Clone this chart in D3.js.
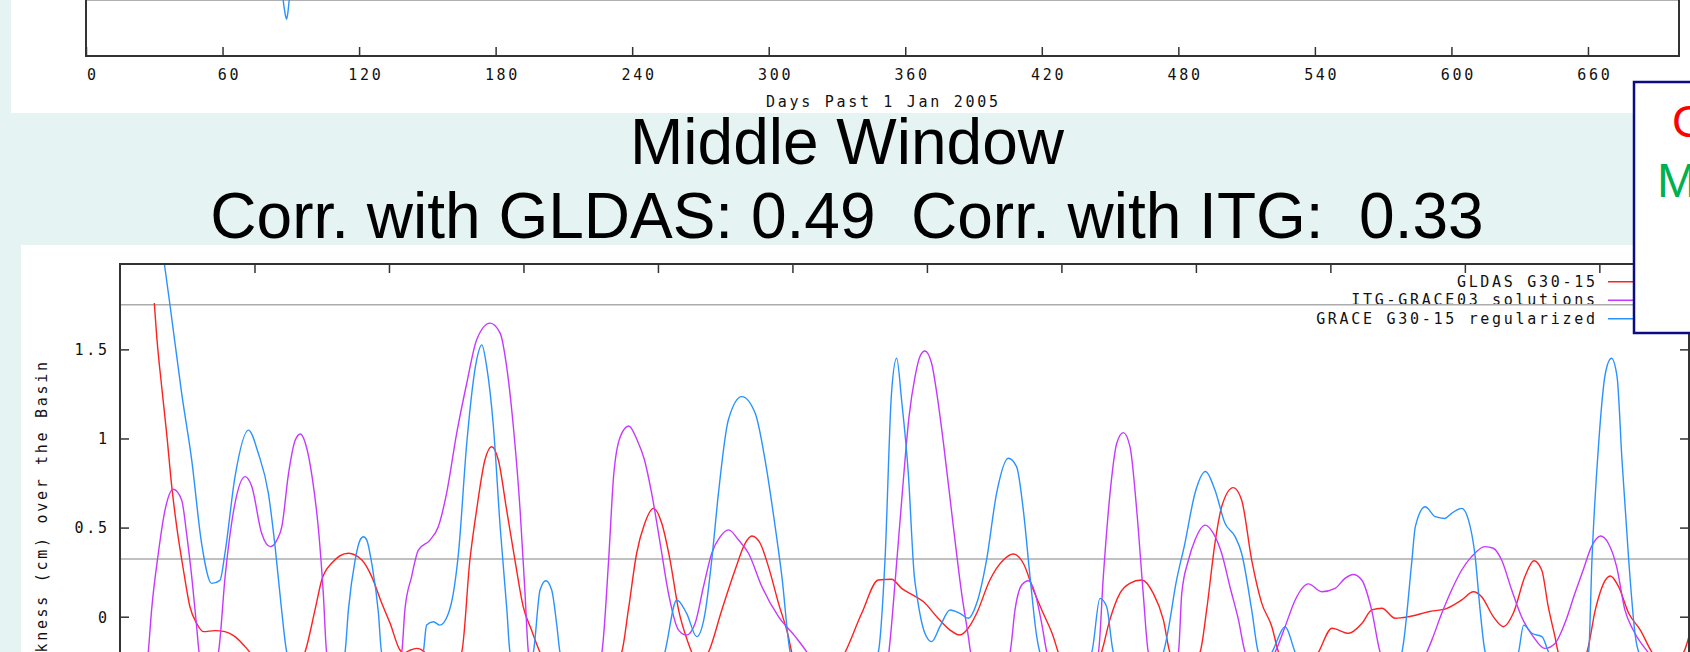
<!DOCTYPE html>
<html>
<head>
<meta charset="utf-8">
<script src="https://cdn.jsdelivr.net/npm/d3@7"></script>
<style>
  html, body { margin: 0; padding: 0; background: #e6f3f3; overflow: hidden; }
  svg { display: block; }
  .mono { font-family: "DejaVu Sans Mono", monospace; font-size: 15px; letter-spacing: 2.7px; fill: #111; }
  .title { font-family: "Liberation Sans", Arial, sans-serif; font-size: 64px; fill: #000; white-space: pre; }
</style>
</head>
<body>
<svg id="chart" width="1690" height="652"></svg>
<script>
// ---- data -------------------------------------------------------------
const dayTicks = [0, 60, 120, 180, 240, 300, 360, 420, 480, 540, 600, 660];
const levelTicks = [-0.5, 0, 0.5, 1, 1.5];
const refLevels = [1.75, 0.324];          // grey reference lines, lower panel
const upperRefLevel = -0.4;               // grey reference line, upper panel

const seriesNames = ["GLDAS G30-15", "ITG-GRACE03 solutions", "GRACE G30-15 regularized"];
const seriesColors = ["#ff2020", "#c638ff", "#2a92ff"];

// [day, cm]
const gldas = [
  [15.3,1.76],[16.4,1.57],[18.6,1.29],[20.8,1.03],[23.1,0.73],[25.3,0.505],[28.3,0.262],[31.2,0.056],
  [34.2,-0.037],[37.2,-0.084],[42.4,-0.078],[46.8,-0.084],[51.3,-0.112],[55.8,-0.168],[58,-0.2],[64,-0.3],
  [72,-0.33],[78,-0.29],[82.5,-0.2],[87,0.038],[90,0.206],[94.4,0.30],[101.9,0.356],[107.9,0.318],
  [112.3,0.225],[116.8,0.075],[120.5,-0.037],[124.9,-0.187],[126.5,-0.205],[129,-0.19],[132.4,-0.178],
  [136,-0.2],[140,-0.28],[146,-0.3],[152.4,-0.2],[156.1,0.318],[159.1,0.599],[162.8,0.879],[165.8,0.954],
  [168.8,0.879],[172.5,0.599],[176.2,0.318],[179.9,0.056],[183.6,-0.075],[187.4,-0.2],[195,-0.35],
  [205,-0.4],[215,-0.35],[223.8,-0.2],[226.8,0.038],[230.5,0.356],[234,0.52],[238,0.608],[241.7,0.524],
  [245.4,0.318],[249.2,0.038],[253.6,-0.15],[255.1,-0.2],[259,-0.26],[262.5,-0.2],[268.5,0.038],
  [274.4,0.262],[278.9,0.412],[281.9,0.453],[285.6,0.412],[289.3,0.281],[293.8,0.075],[298.2,-0.112],
  [299.7,-0.2],[306,-0.35],[315,-0.38],[323.5,-0.2],[330.9,0.019],[338.3,0.206],[344.2,0.21],
  [348.7,0.159],[354,0.12],[358.5,0.084],[364.4,0.0],[370.3,-0.075],[374.7,-0.103],[378.4,-0.065],
  [382.2,0.019],[388.1,0.206],[394.1,0.318],[398.5,0.352],[403,0.30],[407.5,0.15],[411.9,0.019],
  [416.4,-0.112],[418.6,-0.2],[425,-0.33],[432,-0.32],[437.9,-0.2],[441.6,-0.018],[446.1,0.131],
  [450.5,0.187],[455.8,0.206],[461,0.131],[465.5,-0.018],[468.4,-0.2],[474,-0.3],[481.8,-0.2],
  [484.8,0.038],[488.5,0.412],[491.5,0.617],[496.7,0.724],[500.4,0.655],[504.9,0.318],[509.4,0.075],
  [513.9,-0.056],[516.9,-0.2],[524,-0.32],[530,-0.3],[534.7,-0.2],[540.7,-0.065],[548.1,-0.093],
  [554.1,-0.037],[558.5,0.038],[563,0.047],[568.9,-0.009],[574.9,0.0],[583.8,0.028],[592,0.047],
  [598.6,0.094],[603.8,0.14],[607.5,0.112],[612.7,0.0],[617.2,-0.056],[621.6,0.019],[626.8,0.225],
  [630.8,0.314],[634.3,0.262],[637.2,0.056],[640.2,-0.112],[641.7,-0.2],[648,-0.3],[654.4,-0.2],
  [658.2,0.038],[661.9,0.187],[664.9,0.228],[668.6,0.168],[673.1,0.019],[678.3,-0.075],[683.5,-0.2],
  [690,-0.28],[697.6,-0.2],[700,-0.11]
];

const itg = [
  [8,-0.5],[12.6,-0.2],[14.1,0.038],[17.1,0.356],[20.1,0.599],[23.8,0.715],[27.5,0.655],[29.7,0.468],
  [32,0.225],[34.2,-0.056],[35.3,-0.2],[39,-0.35],[43.9,-0.2],[46.9,0.225],[51.3,0.636],[55.8,0.786],
  [58.8,0.73],[63.2,0.468],[67,0.393],[70,0.43],[72.2,0.505],[75.2,0.804],[78.2,0.991],[80.5,1.025],
  [82.7,0.973],[85.7,0.786],[88.7,0.468],[90.7,0.131],[92.2,-0.2],[100,-0.5],[110,-0.55],[120,-0.4],
  [125.7,-0.2],[127.1,0.038],[130.1,0.225],[133.1,0.374],[138.3,0.43],[142,0.505],[145.7,0.692],
  [150.2,1.029],[154.7,1.31],[159.1,1.553],[165.1,1.647],[169.6,1.591],[172.5,1.403],[175.5,1.066],
  [178.5,0.599],[180.7,0.131],[182.2,-0.2],[190,-0.6],[200,-0.6],[210,-0.4],[215,-0.2],[218,0.318],
  [220.2,0.786],[223.2,1.01],[227,1.07],[230.7,0.991],[234,0.879],[237.2,0.692],[241,0.412],
  [244.7,0.131],[249.2,-0.075],[252.8,-0.103],[256.6,-0.037],[260.3,0.168],[264,0.356],[267.8,0.449],
  [271.5,0.487],[276,0.43],[280.4,0.356],[286.4,0.168],[293.8,0.0],[301.3,-0.112],[306.5,-0.2],
  [315,-0.4],[330,-0.5],[340,-0.35],[343,-0.2],[346,0.225],[349,0.692],[352,1.12],[354.7,1.347],
  [356.9,1.46],[359.1,1.491],[362.1,1.422],[364.4,1.254],[367.4,0.973],[371.8,0.505],[375.5,0.131],
  [378.5,-0.112],[379.5,-0.2],[388,-0.45],[397.1,-0.2],[399.3,0.038],[402.3,0.178],[405.3,0.202],
  [408.3,0.131],[411.2,-0.037],[413.5,-0.2],[425,-0.5],[436.5,-0.2],[438.7,0.225],[441.7,0.692],
  [444.7,0.973],[447.6,1.033],[450.6,0.954],[453.6,0.599],[456.5,0.131],[458.8,-0.2],[465,-0.35],
  [472.2,-0.2],[473.7,0.131],[476.7,0.318],[479.6,0.43],[484.1,0.514],[487.8,0.468],[491.5,0.356],
  [495.2,0.168],[499,-0.018],[502,-0.2],[508,-0.3],[515.3,-0.2],[519.8,-0.056],[524.3,0.094],
  [530.2,0.184],[536.1,0.14],[542.1,0.159],[546.5,0.215],[550.2,0.237],[554,0.206],[558.4,0.038],
  [562.2,-0.2],[572,-0.4],[583,-0.2],[585.3,-0.13],[589.7,0.019],[594.1,0.15],[598.6,0.262],
  [603,0.337],[609,0.393],[612.7,0.384],[616.4,0.318],[620.9,0.15],[625.3,0.0],[630.5,-0.112],
  [635.7,-0.178],[640.2,-0.15],[644.6,-0.037],[649.1,0.131],[652.8,0.262],[656.5,0.393],[660.6,0.453],
  [664,0.412],[667.7,0.281],[671.4,0.038],[675.1,-0.075],[681.8,-0.2],[690,-0.3],[700,-0.35]
];

const grace = [
  [15,2.4],[19.8,1.98],[22.3,1.749],[27.5,1.254],[32,0.879],[36.4,0.412],[40.9,0.187],[44.6,0.204],
  [46.8,0.354],[51.3,0.785],[57.3,1.047],[61.7,0.917],[66.2,0.692],[69.2,0.393],[72.1,0.038],[74.4,-0.2],
  [85,-0.5],[95,-0.45],[100.4,-0.2],[101.9,0.038],[104.9,0.318],[107.1,0.43],[108.6,0.449],[110.1,0.43],
  [112.3,0.3],[115.3,0.02],[116.7,-0.2],[125,-0.4],[132,-0.3],[135.3,-0.2],[136.8,-0.047],[139.8,-0.028],
  [142.7,-0.047],[146.5,0.018],[148.7,0.131],[151,0.356],[154.7,0.973],[159.1,1.44],[161.4,1.525],
  [163.6,1.403],[166.6,1.066],[169.6,0.505],[172.6,0.038],[174,-0.2],[179,-0.35],[184.4,-0.2],
  [187.4,0.15],[190,0.202],[192.6,0.15],[194.9,-0.05],[196.3,-0.2],[210,-0.6],[230,-0.6],[243.1,-0.2],
  [248.4,0.094],[252.8,0.019],[257.3,-0.112],[261,0.019],[264,0.318],[267,0.693],[271.4,1.104],
  [277.4,1.235],[283.4,1.141],[287.8,0.879],[292.3,0.505],[295.3,0.225],[299,-0.2],[310,-0.5],
  [325,-0.55],[338.3,-0.2],[341.3,0.318],[344.2,1.254],[346.5,1.45],[348.7,1.216],[351.7,0.804],
  [354.4,0.225],[355.4,0.131],[359.1,-0.093],[362.1,-0.14],[365.8,-0.056],[370.3,0.038],[374.7,0.019],
  [378.4,-0.009],[382.2,0.075],[386.6,0.318],[391.1,0.693],[396.3,0.889],[400,0.842],[403,0.599],
  [406,0.225],[409,-0.112],[410.4,-0.2],[420,-0.4],[433.5,-0.2],[437.2,0.103],[440.2,0.056],
  [443.2,-0.2],[455,-0.4],[465.5,-0.2],[468,-0.05],[471,0.18],[475.1,0.412],[479.6,0.693],[484.3,0.815],
  [488.5,0.711],[493,0.524],[497.5,0.449],[500.4,0.356],[504.9,0.038],[507.9,-0.2],[511,-0.25],
  [513.9,-0.2],[519.8,-0.056],[524.3,-0.2],[535,-0.45],[560,-0.5],[571.9,-0.2],[576.4,0.318],
  [577.9,0.505],[582.3,0.617],[586.8,0.561],[591,0.551],[594.1,0.58],[598.6,0.608],[601.6,0.543],
  [604.6,0.337],[606.8,0.038],[609.1,-0.2],[616,-0.35],[623.9,-0.2],[626.2,-0.047],[629.9,-0.093],
  [634.4,-0.112],[637.4,-0.2],[646,-0.35],[655.2,-0.2],[656.7,0.318],[659.7,0.973],[662.7,1.366],
  [665.4,1.45],[667.9,1.347],[670.1,0.879],[673.1,0.318],[676.1,-0.112],[677.6,-0.2],[690,-0.4],[700,-0.4]
];

// upper panel: only the bottom edge of its plot is on the page
const graceUpper = [
  [84,-0.15],[85.8,-0.3],[86.9,-0.43],[87.7,-0.5],[88.1,-0.52],[88.6,-0.49],[89.3,-0.4],[90.6,-0.2]
];

// ---- drawing ----------------------------------------------------------
const LS = 2.7;   // letter spacing of the plotting font
const svg = d3.select("#chart");

svg.append("rect").attr("width", 1690).attr("height", 652).attr("fill", "#e6f3f3");
svg.append("rect").attr("x", 11).attr("y", 0).attr("width", 1679).attr("height", 113).attr("fill", "#fff");
svg.append("rect").attr("x", 21).attr("y", 245).attr("width", 1669).attr("height", 407).attr("fill", "#fff");

const defs = svg.append("defs");

// ---------- upper panel ----------
const xU = d3.scaleLinear().domain([0, 700]).range([86, 1679]);
const yU = d3.scaleLinear().domain([-0.75, 2]).range([56, -384]);

defs.append("clipPath").attr("id", "clipU").append("rect")
  .attr("x", xU(0)).attr("y", yU(2)).attr("width", xU(700) - xU(0)).attr("height", yU(-0.75) - yU(2));

const upper = svg.append("g");
upper.append("line")
  .attr("x1", xU(0)).attr("x2", xU(700)).attr("y1", yU(upperRefLevel)).attr("y2", yU(upperRefLevel))
  .attr("stroke", "#b0b0b0").attr("stroke-width", 2);

const lineU = d3.line().x(d => xU(d[0])).y(d => yU(d[1])).curve(d3.curveMonotoneX);
upper.append("path").attr("clip-path", "url(#clipU)")
  .attr("d", lineU(graceUpper)).attr("fill", "none")
  .attr("stroke", seriesColors[2]).attr("stroke-width", 1.4);

upper.append("path")
  .attr("d", `M${xU(0)},${yU(2)}V${yU(-0.75)}H${xU(700)}V${yU(2)}`)
  .attr("fill", "none").attr("stroke", "#333").attr("stroke-width", 2);

const axU = upper.append("g").attr("transform", `translate(0,${yU(-0.75)})`)
  .call(d3.axisBottom(xU).tickValues(dayTicks).tickSizeInner(-9).tickSizeOuter(0).tickFormat(d3.format("d")));
axU.attr("font-family", null).attr("font-size", null);
axU.select(".domain").remove();
axU.selectAll(".tick line").attr("stroke", "#333").attr("stroke-width", 1.5);
axU.selectAll(".tick text").attr("class", "mono").attr("y", 24).attr("dy", null).attr("x", 5 + LS / 2);

upper.append("text").attr("class", "mono")
  .attr("x", 882 + LS / 2).attr("y", 107).attr("text-anchor", "middle")
  .text("Days Past 1 Jan 2005");

// ---------- lower panel ----------
const x = d3.scaleLinear().domain([0, 700]).range([120, 1689]);
const y = d3.scaleLinear().domain([-0.9, 1.979]).range([777.1, 264]);

defs.append("clipPath").attr("id", "clipL").append("rect")
  .attr("x", x(0)).attr("y", y(1.979)).attr("width", x(700) - x(0)).attr("height", y(-0.9) - y(1.979));

const lower = svg.append("g");

// axis title (rotated)
lower.append("text").attr("class", "mono")
  .attr("transform", `translate(46.5,${362 - LS}) rotate(-90)`)
  .attr("text-anchor", "end")
  .text("Equivalent Water Thickness (cm) over the Basin");

// legend
const legend = lower.append("g");
const legendBase = [286.7, 305.2, 323.7];
seriesNames.forEach((name, i) => {
  legend.append("text").attr("class", "mono")
    .attr("x", 1595 + LS).attr("y", legendBase[i]).attr("text-anchor", "end").text(name);
  legend.append("line")
    .attr("x1", 1608).attr("x2", 1662).attr("y1", legendBase[i] - 5).attr("y2", legendBase[i] - 5)
    .attr("stroke", seriesColors[i]).attr("stroke-width", 1.4);
});

// grey reference lines
lower.selectAll("line.ref").data(refLevels).join("line").attr("class", "ref")
  .attr("x1", x(0)).attr("x2", x(700)).attr("y1", d => y(d)).attr("y2", d => y(d))
  .attr("stroke", "#ababab").attr("stroke-width", 1.6);

// series
const line = d3.line().x(d => x(d[0])).y(d => y(d[1])).curve(d3.curveMonotoneX);
[gldas, itg, grace].forEach((s, i) => {
  lower.append("path").attr("clip-path", "url(#clipL)")
    .attr("d", line(s)).attr("fill", "none")
    .attr("stroke", seriesColors[i]).attr("stroke-width", 1.4).attr("stroke-linejoin", "round");
});

// frame and ticks
lower.append("path")
  .attr("d", `M${x(0)},${y(-0.9)}V${y(1.979)}H${x(700)}V${y(-0.9)}`)
  .attr("fill", "none").attr("stroke", "#333").attr("stroke-width", 2);

const axTop = lower.append("g").attr("transform", `translate(0,${y(1.979)})`)
  .call(d3.axisTop(x).tickValues(dayTicks.slice(1)).tickSizeInner(-9).tickSizeOuter(0).tickFormat(""));
const axLeft = lower.append("g").attr("transform", `translate(${x(0)},0)`)
  .call(d3.axisLeft(y).tickValues(levelTicks).tickSizeInner(-9).tickSizeOuter(0).tickFormat(d3.format("~g")));
const axRight = lower.append("g").attr("transform", `translate(${x(700)},0)`)
  .call(d3.axisRight(y).tickValues(levelTicks).tickSizeInner(-9).tickSizeOuter(0).tickFormat(""));
[axTop, axLeft, axRight].forEach(a => {
  a.attr("font-family", null).attr("font-size", null);
  a.select(".domain").remove();
  a.selectAll(".tick line").attr("stroke", "#333").attr("stroke-width", 1.5);
});
axLeft.selectAll(".tick text").attr("class", "mono")
  .attr("x", -(x(0) - 107 - LS)).attr("dy", "0.36em");

// ---------- overlay box ----------
const box = svg.append("g");
box.append("rect").attr("x", 1634).attr("y", 82).attr("width", 80).attr("height", 251)
  .attr("fill", "#fff").attr("stroke", "#0b0b85").attr("stroke-width", 2.5);
box.append("text").attr("x", 1672).attr("y", 137)
  .attr("font-family", "Liberation Sans, Arial, sans-serif").attr("font-size", 45)
  .attr("fill", "#ff0000").text("GLDAS");
box.append("text").attr("x", 1657).attr("y", 197)
  .attr("font-family", "Liberation Sans, Arial, sans-serif").attr("font-size", 48)
  .attr("fill", "#00b050").text("Model");

// ---------- titles ----------
svg.append("text").attr("class", "title").attr("x", 847).attr("y", 164)
  .attr("text-anchor", "middle").text("Middle Window");
svg.append("text").attr("class", "title").attr("x", 847).attr("y", 238)
  .attr("text-anchor", "middle").text("Corr. with GLDAS: 0.49  Corr. with ITG:  0.33");
</script>
</body>
</html>
